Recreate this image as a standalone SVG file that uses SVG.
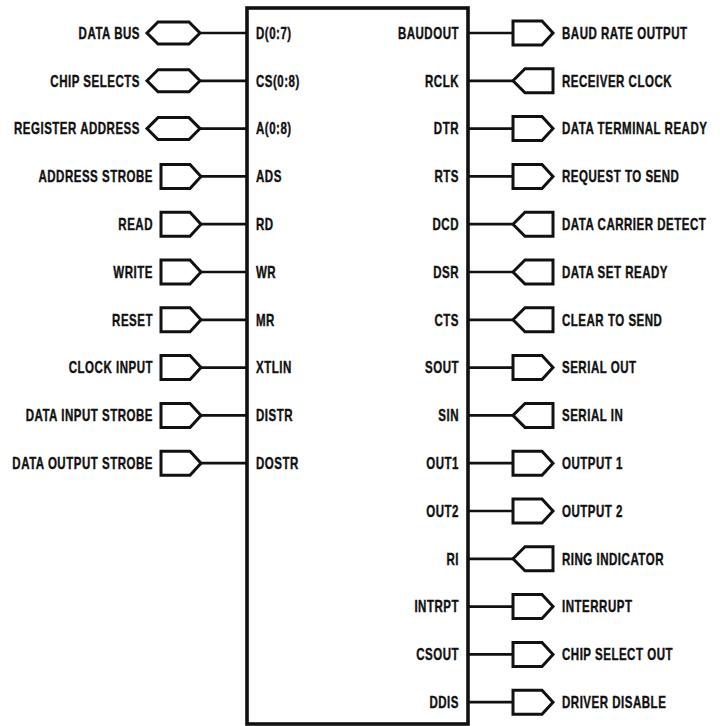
<svg xmlns="http://www.w3.org/2000/svg" xmlns:xlink="http://www.w3.org/1999/xlink" width="720" height="726" viewBox="0 0 720 726">
<style>
text{font-family:"Liberation Sans",Arial,sans-serif;font-weight:bold;font-size:16px;letter-spacing:.7px;fill:#111;stroke:#111;stroke-width:.4}
.l{text-anchor:end}
.p{text-anchor:start}
.sh{fill:#fff;stroke:#111;stroke-width:3;stroke-linejoin:miter}
.w{stroke:#111;stroke-width:2.7;fill:none}
.box{fill:#fff;stroke:#111;stroke-width:3.6}
</style>
<defs>
<path id="bi" class="sh" d="M0,0 L11,-11 L42,-11 L53,0 L42,11 L11,11 Z"/>
<path id="out" class="sh" d="M0,-12 H29 L40,0 L29,12 H0 Z"/>
<path id="in" class="sh" d="M0,0 L12,-12 H40 V12 H12 Z"/>
</defs>
<g id="connectors">
<path class="w" d="M200,33H247M200,80.8H247M200,128.6H247M201,176.4H247M201,224.2H247M201,272H247M201,319.8H247M201,367.6H247M201,415.4H247M201,463.2H247"/>
<path class="w" d="M467,33H513M467,80.8H513M467,128.6H513M467,176.4H513M467,224.2H513M467,272H513M467,319.8H513M467,367.6H513M467,415.4H513M467,463.2H513M467,511H513M467,558.8H513M467,606.6H513M467,654.4H513M467,702.2H513"/>
</g>
<g id="chip"><rect class="box" x="247" y="8" width="221" height="716"/></g>
<g id="n-d"><use xlink:href="#bi" x="147" y="33"/><text class="l" transform="translate(140,38.7) scale(.72,1)">DATA BUS</text><text class="p" transform="translate(256,38.7) scale(.72,1)">D(0:7)</text></g>
<g id="n-cs"><use xlink:href="#bi" x="147" y="80.8"/><text class="l" transform="translate(140,86.5) scale(.72,1)">CHIP SELECTS</text><text class="p" transform="translate(256,86.5) scale(.72,1)">CS(0:8)</text></g>
<g id="n-a"><use xlink:href="#bi" x="147" y="128.6"/><text class="l" transform="translate(140,134.3) scale(.72,1)">REGISTER ADDRESS</text><text class="p" transform="translate(256,134.3) scale(.72,1)">A(0:8)</text></g>
<g id="n-ads"><use xlink:href="#out" x="161" y="176.4"/><text class="l" transform="translate(153,182.1) scale(.72,1)">ADDRESS STROBE</text><text class="p" transform="translate(256,182.1) scale(.72,1)">ADS</text></g>
<g id="n-rd"><use xlink:href="#out" x="161" y="224.2"/><text class="l" transform="translate(153,229.9) scale(.72,1)">READ</text><text class="p" transform="translate(256,229.9) scale(.72,1)">RD</text></g>
<g id="n-wr"><use xlink:href="#out" x="161" y="272"/><text class="l" transform="translate(153,277.7) scale(.72,1)">WRITE</text><text class="p" transform="translate(256,277.7) scale(.72,1)">WR</text></g>
<g id="n-mr"><use xlink:href="#out" x="161" y="319.8"/><text class="l" transform="translate(153,325.5) scale(.72,1)">RESET</text><text class="p" transform="translate(256,325.5) scale(.72,1)">MR</text></g>
<g id="n-xtlin"><use xlink:href="#out" x="161" y="367.6"/><text class="l" transform="translate(153,373.3) scale(.72,1)">CLOCK INPUT</text><text class="p" transform="translate(256,373.3) scale(.72,1)">XTLIN</text></g>
<g id="n-distr"><use xlink:href="#out" x="161" y="415.4"/><text class="l" transform="translate(153,421.1) scale(.72,1)">DATA INPUT STROBE</text><text class="p" transform="translate(256,421.1) scale(.72,1)">DISTR</text></g>
<g id="n-dostr"><use xlink:href="#out" x="161" y="463.2"/><text class="l" transform="translate(153,468.9) scale(.72,1)">DATA OUTPUT STROBE</text><text class="p" transform="translate(256,468.9) scale(.72,1)">DOSTR</text></g>
<g id="n-baudout"><use xlink:href="#out" x="513" y="33"/><text class="l" transform="translate(459,38.7) scale(.72,1)">BAUDOUT</text><text class="p" transform="translate(562,38.7) scale(.72,1)">BAUD RATE OUTPUT</text></g>
<g id="n-rclk"><use xlink:href="#in" x="513" y="80.8"/><text class="l" transform="translate(459,86.5) scale(.72,1)">RCLK</text><text class="p" transform="translate(562,86.5) scale(.72,1)">RECEIVER CLOCK</text></g>
<g id="n-dtr"><use xlink:href="#out" x="513" y="128.6"/><text class="l" transform="translate(459,134.3) scale(.72,1)">DTR</text><text class="p" transform="translate(562,134.3) scale(.72,1)">DATA TERMINAL READY</text></g>
<g id="n-rts"><use xlink:href="#out" x="513" y="176.4"/><text class="l" transform="translate(459,182.1) scale(.72,1)">RTS</text><text class="p" transform="translate(562,182.1) scale(.72,1)">REQUEST TO SEND</text></g>
<g id="n-dcd"><use xlink:href="#in" x="513" y="224.2"/><text class="l" transform="translate(459,229.9) scale(.72,1)">DCD</text><text class="p" transform="translate(562,229.9) scale(.72,1)">DATA CARRIER DETECT</text></g>
<g id="n-dsr"><use xlink:href="#in" x="513" y="272"/><text class="l" transform="translate(459,277.7) scale(.72,1)">DSR</text><text class="p" transform="translate(562,277.7) scale(.72,1)">DATA SET READY</text></g>
<g id="n-cts"><use xlink:href="#in" x="513" y="319.8"/><text class="l" transform="translate(459,325.5) scale(.72,1)">CTS</text><text class="p" transform="translate(562,325.5) scale(.72,1)">CLEAR TO SEND</text></g>
<g id="n-sout"><use xlink:href="#out" x="513" y="367.6"/><text class="l" transform="translate(459,373.3) scale(.72,1)">SOUT</text><text class="p" transform="translate(562,373.3) scale(.72,1)">SERIAL OUT</text></g>
<g id="n-sin"><use xlink:href="#in" x="513" y="415.4"/><text class="l" transform="translate(459,421.1) scale(.72,1)">SIN</text><text class="p" transform="translate(562,421.1) scale(.72,1)">SERIAL IN</text></g>
<g id="n-out1"><use xlink:href="#out" x="513" y="463.2"/><text class="l" transform="translate(459,468.9) scale(.72,1)">OUT1</text><text class="p" transform="translate(562,468.9) scale(.72,1)">OUTPUT 1</text></g>
<g id="n-out2"><use xlink:href="#out" x="513" y="511"/><text class="l" transform="translate(459,516.7) scale(.72,1)">OUT2</text><text class="p" transform="translate(562,516.7) scale(.72,1)">OUTPUT 2</text></g>
<g id="n-ri"><use xlink:href="#in" x="513" y="558.8"/><text class="l" transform="translate(459,564.5) scale(.72,1)">RI</text><text class="p" transform="translate(562,564.5) scale(.72,1)">RING INDICATOR</text></g>
<g id="n-intrpt"><use xlink:href="#out" x="513" y="606.6"/><text class="l" transform="translate(459,612.3) scale(.72,1)">INTRPT</text><text class="p" transform="translate(562,612.3) scale(.72,1)">INTERRUPT</text></g>
<g id="n-csout"><use xlink:href="#out" x="513" y="654.4"/><text class="l" transform="translate(459,660.1) scale(.72,1)">CSOUT</text><text class="p" transform="translate(562,660.1) scale(.72,1)">CHIP SELECT OUT</text></g>
<g id="n-ddis"><use xlink:href="#out" x="513" y="702.2"/><text class="l" transform="translate(459,707.9) scale(.72,1)">DDIS</text><text class="p" transform="translate(562,707.9) scale(.72,1)">DRIVER DISABLE</text></g>
</svg>
